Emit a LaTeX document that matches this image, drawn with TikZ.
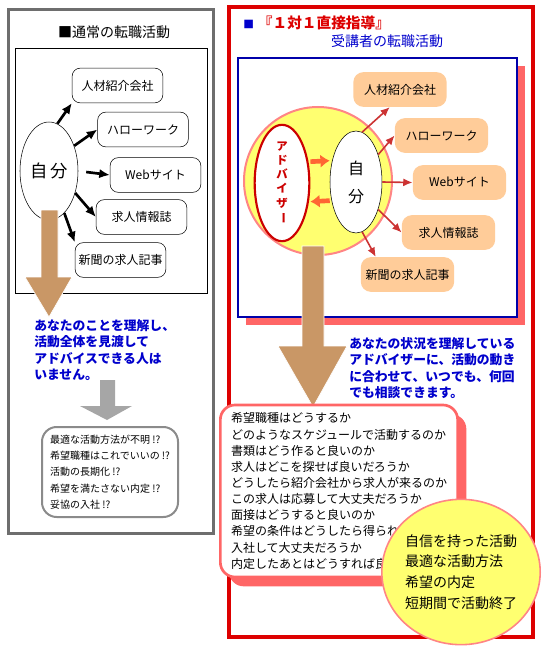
\documentclass[tikz,border=0pt]{standalone}
\usepackage{fontspec}
\setmainfont{Noto Sans CJK JP}
\usetikzlibrary{shapes.geometric,arrows.meta,shadows}
\definecolor{tanarrow}{RGB}{201,151,102}
\definecolor{salmon}{RGB}{255,102,102}
\definecolor{peach}{RGB}{255,204,153}
\definecolor{lemon}{RGB}{255,255,112}
\definecolor{navyline}{RGB}{0,0,170}
\definecolor{hintblue}{RGB}{0,0,204}
\definecolor{framered}{RGB}{221,0,0}
\definecolor{arrowred}{RGB}{204,51,51}
\definecolor{orangearr}{RGB}{255,102,51}
\definecolor{advred}{RGB}{204,0,0}
\definecolor{greyline}{RGB}{110,110,110}
\begin{document}
\begin{tikzpicture}[x=0.75pt, y=-0.75pt, font=\fontsize{9}{11}\selectfont,
    wbox/.style={draw, rounded corners=6pt, minimum width=68pt, minimum height=26pt, inner sep=0pt},
    pbox/.style={fill=peach, rounded corners=7.5pt, minimum width=70pt, minimum height=26pt, inner sep=0pt},
    blk/.style={line width=2pt, -{Latex[length=8pt,width=7pt]}},
    rarr/.style={arrowred, line width=1.2pt, -{Latex[length=7pt,width=6pt]}},
    oarr/.style={orangearr, line width=3.5pt, -{Latex[length=7pt,width=10pt]}},
    note/.style={text=hintblue, font=\fontsize{9.6}{12.4}\selectfont\bfseries, align=left, inner sep=0pt, anchor=west}]
  \useasboundingbox (0,0) rectangle (548,652);
  \draw[greyline, line width=2.25pt] (8.5,10) rectangle (213.5,533.5);
  \draw[framered, line width=3pt] (229,7) rectangle (533,637);
  \draw[line width=0.75pt] (15,49) rectangle (207,293);
  \node[font=\fontsize{10.5}{12}\selectfont] (ltitle) at (114,32) {■通常の転職活動};
  \node[draw, ellipse, minimum width=43.5pt, minimum height=73.5pt, inner sep=0pt, font=\fontsize{13}{15}\selectfont] (me) at (49,171) {自\hspace{2pt}分};
  \node[wbox] (agency) at (117.5,85.5) {人材紹介会社};
  \node[wbox] (hello) at (143,129.5) {ハローワーク};
  \node[wbox] (web) at (155.5,175) {Webサイト};
  \node[wbox] (mag) at (141.5,217) {求人情報誌};
  \node[wbox] (news) at (120.5,260) {新聞の求人記事};
  \draw[blk] (me.80) -- (agency.south west);
  \draw[blk] (me.45) -- (hello.west);
  \draw[blk, shorten <=6pt] (me.east) -- (web.west);
  \draw[blk] (me.-40) -- (mag.west);
  \draw[blk] (me.-70) -- (news.north west);
  \filldraw[fill=tanarrow, draw=white, line width=0.5pt] (41,210) -- (58,210) -- (58,277) -- (72,277) -- (49,317) -- (25,277) -- (41,277) -- cycle;
  \node[note] (lnote) at (34,350) {あなたのことを理解し、\\活動全体を見渡して\\アドバイスできる人は\\いません。};
  \fill[black!35] (100,380) -- (115,380) -- (115,406) -- (132,406) -- (107,420) -- (80,406) -- (100,406) -- cycle;
  \node[draw=greyline!80, line width=1.5pt, rounded corners=11pt, minimum width=102pt, minimum height=67.5pt, align=left, font=\fontsize{7.5}{12.2}\selectfont] (doubts) at (110,472) {最適な活動方法が不明 !?\\希望職種はこれでいいの !?\\活動の長期化 !?\\希望を満たさない内定 !?\\妥協の入社 !?};
  \node[anchor=west, inner sep=0pt, font=\fontsize{11}{12}\selectfont] (rtitle) at (243,23) {{\color{hintblue}\fontsize{8}{8}\selectfont■}\hspace{3pt}{\color{framered}\bfseries 『１対１直接指導』}};
  \node[text=hintblue, font=\fontsize{10.5}{12}\selectfont] (rsub) at (387,41) {受講者の転職活動};
  \node[draw=navyline, line width=1.5pt, fill=white, minimum width=209pt, minimum height=194pt, drop shadow={shadow xshift=6pt, shadow yshift=-6pt, fill=salmon, opacity=1}] (panel) at (377.5,187.5) {};
  \node[circle, fill=lemon, draw=salmon!80, line width=1.5pt, minimum size=111pt] (halo) at (318,181) {};
  \node[draw=advred, fill=white, ellipse, line width=1.6pt, minimum width=41pt, minimum height=77pt, inner sep=0pt, align=center, text=advred, font=\fontsize{8.5}{10.6}\selectfont\bfseries] (adv) at (282,183) {ア\\ド\\バ\\イ\\ザ\\\rotatebox[origin=c]{-90}{ー}};
  \node[draw, fill=white, ellipse, minimum width=39pt, minimum height=76.5pt, inner sep=0pt, align=center, font=\fontsize{12}{21}\selectfont] (jib) at (356,182) {自\\分};
  \draw[oarr] ([yshift=16pt]adv.east) -- ([yshift=16pt]jib.west);
  \draw[oarr] ([yshift=-14pt]jib.west) -- ([yshift=-14pt]adv.east);
  \node[pbox] (ragency) at (400,89.5) {人材紹介会社};
  \node[pbox] (rhello) at (441.5,135.5) {ハローワーク};
  \node[pbox] (rweb) at (459.5,182.5) {Webサイト};
  \node[pbox] (rmag) at (448.5,232.5) {求人情報誌};
  \node[pbox] (rnews) at (407.5,274.5) {新聞の求人記事};
  \draw[rarr] (jib.83) -- (ragency.240);
  \draw[rarr] (jib.51) -- (rhello.west);
  \draw[rarr] (jib.east) -- (rweb.west);
  \draw[rarr] (jib.-51) -- (rmag.west);
  \draw[rarr] (jib.-83) -- (rnews.151);
  \filldraw[fill=tanarrow, draw=white, line width=0.5pt] (302,246) -- (324,246) -- (324,346) -- (347,346) -- (313,407) -- (278,346) -- (302,346) -- cycle;
  \node[note] (rnote) at (349,368) {あなたの状況を理解している\\アドバイザーに、活動の動き\\に合わせて、いつでも、何回\\でも相談できます。};
  \node[draw=salmon, line width=2pt, fill=white, rounded corners=11pt, minimum width=178pt, minimum height=129pt, align=left, font=\fontsize{9}{12.1}\selectfont, drop shadow={shadow xshift=6.5pt, shadow yshift=-7pt, fill=salmon, opacity=1}] (worries) at (339,491) {希望職種はどうするか\\どのようなスケジュールで活動するのか\\書類はどう作ると良いのか\\求人はどこを探せば良いだろうか\\どうしたら紹介会社から求人が来るのか\\この求人は応募して大丈夫だろうか\\面接はどうすると良いのか\\希望の条件はどうしたら得られるのか\\入社して大丈夫だろうか\\内定したあとはどうすれば良いのか};
  \node[ellipse, fill=lemon, draw=salmon!80, line width=1.2pt, minimum width=117pt, minimum height=109pt, inner sep=0pt, align=left, font=\fontsize{10.5}{15.6}\selectfont] (goal) at (461,572) {自信を持った活動\\最適な活動方法\\希望の内定\\短期間で活動終了};
\end{tikzpicture}
\end{document}
